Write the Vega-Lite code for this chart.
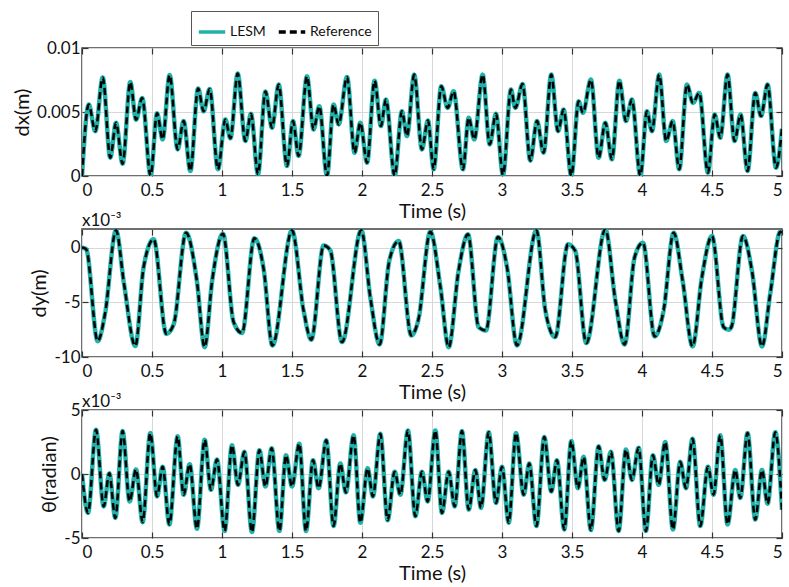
{
  "$schema": "https://vega.github.io/schema/vega-lite/v6.json",
  "background": "white",
  "padding": {"left": 11, "top": 10, "right": 5, "bottom": 5},
  "config": {
    "font": "Lato",
    "view": {"stroke": "#404040", "strokeWidth": 1.5},
    "axis": {"labelFontSize": 17, "titleFontSize": 20, "titleFontWeight": "normal", "labelColor": "#111", "titleColor": "#111", "domain": false, "gridColor": "#d8d8d8", "gridWidth": 1, "tickColor": "#333", "tickSize": -6, "tickWidth": 1.2, "labelExpr": "'' + datum.value"},
    "axisX": {"labelPadding": 12, "titlePadding": 3},
    "axisY": {"labelPadding": 8, "titlePadding": 4},
    "legend": {"orient": "none", "legendX": 109, "legendY": -37, "direction": "horizontal", "strokeColor": "#555", "fillColor": "white", "padding": 6, "labelFontSize": 14, "symbolSize": 700, "symbolStrokeWidth": 3.5, "columnPadding": 5, "labelOffset": 3, "labelColor": "#111"},
    "title": {"fontSize": 17, "fontWeight": "normal", "anchor": "start", "frame": "group", "color": "#111"}
  },
  "datasets": {
    "dx": [
      {"t":0,"lesm":0,"ref":0},{"t":0.048,"lesm":0.00558,"ref":0.00558},{"t":0.095,"lesm":0.0035,"ref":0.0035},{"t":0.148,"lesm":0.0077,"ref":0.0077},{"t":0.202,"lesm":0.00143,"ref":0.00143},{"t":0.243,"lesm":0.00416,"ref":0.00416},{"t":0.29,"lesm":0.00096,"ref":0.00096},{"t":0.345,"lesm":0.00735,"ref":0.00735},{"t":0.386,"lesm":0.0044,"ref":0.0044},{"t":0.43,"lesm":0.0061,"ref":0.0061},{"t":0.49,"lesm":0,"ref":0},{"t":0.536,"lesm":0.0049,"ref":0.0049},{"t":0.576,"lesm":0.00286,"ref":0.00286},{"t":0.626,"lesm":0.0079,"ref":0.0079},{"t":0.683,"lesm":0.00208,"ref":0.00208},{"t":0.726,"lesm":0.00429,"ref":0.00429},{"t":0.774,"lesm":0.00039,"ref":0.00039},{"t":0.829,"lesm":0.00683,"ref":0.00683},{"t":0.869,"lesm":0.00506,"ref":0.00506},{"t":0.912,"lesm":0.0068,"ref":0.0068},{"t":0.971,"lesm":0.00052,"ref":0.00052},{"t":1.024,"lesm":0.00442,"ref":0.00442},{"t":1.06,"lesm":0.00294,"ref":0.00294},{"t":1.112,"lesm":0.008,"ref":0.008},{"t":1.167,"lesm":0.00273,"ref":0.00273},{"t":1.207,"lesm":0.00486,"ref":0.00486},{"t":1.257,"lesm":0.00013,"ref":0.00013},{"t":1.31,"lesm":0.0066,"ref":0.0066},{"t":1.357,"lesm":0.00377,"ref":0.00377},{"t":1.405,"lesm":0.00714,"ref":0.00714},{"t":1.464,"lesm":0.00078,"ref":0.00078},{"t":1.507,"lesm":0.00429,"ref":0.00429},{"t":1.547,"lesm":0.00156,"ref":0.00156},{"t":1.607,"lesm":0.00779,"ref":0.00779},{"t":1.654,"lesm":0.00364,"ref":0.00364},{"t":1.695,"lesm":0.00545,"ref":0.00545},{"t":1.75,"lesm":0,"ref":0},{"t":1.797,"lesm":0.00558,"ref":0.00558},{"t":1.833,"lesm":0.00403,"ref":0.00403},{"t":1.893,"lesm":0.00774,"ref":0.00774},{"t":1.947,"lesm":0.00182,"ref":0.00182},{"t":1.988,"lesm":0.00416,"ref":0.00416},{"t":2.036,"lesm":0.00104,"ref":0.00104},{"t":2.09,"lesm":0.00745,"ref":0.00745},{"t":2.135,"lesm":0.0039,"ref":0.0039},{"t":2.171,"lesm":0.00597,"ref":0.00597},{"t":2.233,"lesm":0,"ref":0},{"t":2.285,"lesm":0.00506,"ref":0.00506},{"t":2.321,"lesm":0.00312,"ref":0.00312},{"t":2.373,"lesm":0.00792,"ref":0.00792},{"t":2.428,"lesm":0.00208,"ref":0.00208},{"t":2.471,"lesm":0.00434,"ref":0.00434},{"t":2.512,"lesm":0.00052,"ref":0.00052},{"t":2.566,"lesm":0.00701,"ref":0.00701},{"t":2.612,"lesm":0.00532,"ref":0.00532},{"t":2.654,"lesm":0.00662,"ref":0.00662},{"t":2.721,"lesm":0.00052,"ref":0.00052},{"t":2.762,"lesm":0.00455,"ref":0.00455},{"t":2.802,"lesm":0.00286,"ref":0.00286},{"t":2.862,"lesm":0.00792,"ref":0.00792},{"t":2.912,"lesm":0.00247,"ref":0.00247},{"t":2.957,"lesm":0.00486,"ref":0.00486},{"t":3.007,"lesm":0.00008,"ref":0.00008},{"t":3.064,"lesm":0.00675,"ref":0.00675},{"t":3.095,"lesm":0.00532,"ref":0.00532},{"t":3.147,"lesm":0.00719,"ref":0.00719},{"t":3.202,"lesm":0.0012,"ref":0.0012},{"t":3.25,"lesm":0.00429,"ref":0.00429},{"t":3.297,"lesm":0.00182,"ref":0.00182},{"t":3.352,"lesm":0.00792,"ref":0.00792},{"t":3.4,"lesm":0.0035,"ref":0.0035},{"t":3.44,"lesm":0.00519,"ref":0.00519},{"t":3.495,"lesm":0,"ref":0},{"t":3.547,"lesm":0.00584,"ref":0.00584},{"t":3.578,"lesm":0.00494,"ref":0.00494},{"t":3.635,"lesm":0.00753,"ref":0.00753},{"t":3.69,"lesm":0.00143,"ref":0.00143},{"t":3.738,"lesm":0.00416,"ref":0.00416},{"t":3.785,"lesm":0.0013,"ref":0.0013},{"t":3.838,"lesm":0.00745,"ref":0.00745},{"t":3.885,"lesm":0.00429,"ref":0.00429},{"t":3.928,"lesm":0.00597,"ref":0.00597},{"t":3.988,"lesm":0,"ref":0},{"t":4.035,"lesm":0.00506,"ref":0.00506},{"t":4.071,"lesm":0.0035,"ref":0.0035},{"t":4.123,"lesm":0.00792,"ref":0.00792},{"t":4.173,"lesm":0.00273,"ref":0.00273},{"t":4.219,"lesm":0.00429,"ref":0.00429},{"t":4.266,"lesm":0.00052,"ref":0.00052},{"t":4.321,"lesm":0.00714,"ref":0.00714},{"t":4.364,"lesm":0.00571,"ref":0.00571},{"t":4.409,"lesm":0.00649,"ref":0.00649},{"t":4.471,"lesm":0.00026,"ref":0.00026},{"t":4.519,"lesm":0.0048,"ref":0.0048},{"t":4.559,"lesm":0.00299,"ref":0.00299},{"t":4.611,"lesm":0.00792,"ref":0.00792},{"t":4.661,"lesm":0.00273,"ref":0.00273},{"t":4.704,"lesm":0.0048,"ref":0.0048},{"t":4.754,"lesm":0.00039,"ref":0.00039},{"t":4.809,"lesm":0.00649,"ref":0.00649},{"t":4.85,"lesm":0.00468,"ref":0.00468},{"t":4.897,"lesm":0.00714,"ref":0.00714},{"t":4.957,"lesm":0.00065,"ref":0.00065},{"t":5,"lesm":0.0037,"ref":0.0037}
    ],
    "dy": [
      {"t":0,"lesm":0,"ref":0},{"t":0.03,"lesm":-0.15,"ref":-0.15},{"t":0.112,"lesm":-8.55,"ref":-8.55},{"t":0.165,"lesm":-6.0,"ref":-6.0},{"t":0.243,"lesm":1.58,"ref":1.58},{"t":0.3,"lesm":-3.3,"ref":-3.3},{"t":0.381,"lesm":-9.0,"ref":-9.0},{"t":0.44,"lesm":-1.8,"ref":-1.8},{"t":0.512,"lesm":0.76,"ref":0.76},{"t":0.602,"lesm":-7.88,"ref":-7.88},{"t":0.655,"lesm":-7.0,"ref":-7.0},{"t":0.743,"lesm":1.36,"ref":1.36},{"t":0.82,"lesm":-3.0,"ref":-3.0},{"t":0.876,"lesm":-9.1,"ref":-9.1},{"t":0.93,"lesm":-3.0,"ref":-3.0},{"t":1.007,"lesm":1.27,"ref":1.27},{"t":1.083,"lesm":-6.8,"ref":-6.8},{"t":1.143,"lesm":-7.8,"ref":-7.8},{"t":1.231,"lesm":0.85,"ref":0.85},{"t":1.298,"lesm":-2.0,"ref":-2.0},{"t":1.36,"lesm":-8.95,"ref":-8.95},{"t":1.5,"lesm":1.58,"ref":1.58},{"t":1.583,"lesm":-5.76,"ref":-5.76},{"t":1.638,"lesm":-8.42,"ref":-8.42},{"t":1.726,"lesm":0.2,"ref":0.2},{"t":1.773,"lesm":-0.24,"ref":-0.24},{"t":1.857,"lesm":-8.64,"ref":-8.64},{"t":1.995,"lesm":1.58,"ref":1.58},{"t":2.06,"lesm":-4.6,"ref":-4.6},{"t":2.126,"lesm":-8.85,"ref":-8.85},{"t":2.195,"lesm":-1.2,"ref":-1.2},{"t":2.262,"lesm":0.6,"ref":0.6},{"t":2.352,"lesm":-8.03,"ref":-8.03},{"t":2.404,"lesm":-6.5,"ref":-6.5},{"t":2.488,"lesm":1.45,"ref":1.45},{"t":2.56,"lesm":-3.6,"ref":-3.6},{"t":2.619,"lesm":-9.1,"ref":-9.1},{"t":2.69,"lesm":-2.1,"ref":-2.1},{"t":2.757,"lesm":1.21,"ref":1.21},{"t":2.833,"lesm":-7.27,"ref":-7.27},{"t":2.885,"lesm":-7.58,"ref":-7.58},{"t":2.971,"lesm":0.97,"ref":0.97},{"t":3.036,"lesm":-1.8,"ref":-1.8},{"t":3.107,"lesm":-8.94,"ref":-8.94},{"t":3.246,"lesm":1.58,"ref":1.58},{"t":3.31,"lesm":-5.76,"ref":-5.76},{"t":3.38,"lesm":-8.18,"ref":-8.18},{"t":3.471,"lesm":0.3,"ref":0.3},{"t":3.523,"lesm":-0.3,"ref":-0.3},{"t":3.602,"lesm":-8.73,"ref":-8.73},{"t":3.738,"lesm":1.67,"ref":1.67},{"t":3.81,"lesm":-4.85,"ref":-4.85},{"t":3.876,"lesm":-8.85,"ref":-8.85},{"t":3.947,"lesm":-0.9,"ref":-0.9},{"t":4.007,"lesm":0.45,"ref":0.45},{"t":4.09,"lesm":-8.12,"ref":-8.12},{"t":4.154,"lesm":-5.76,"ref":-5.76},{"t":4.226,"lesm":1.36,"ref":1.36},{"t":4.29,"lesm":-3.0,"ref":-3.0},{"t":4.361,"lesm":-9.03,"ref":-9.03},{"t":4.428,"lesm":-2.7,"ref":-2.7},{"t":4.5,"lesm":1.06,"ref":1.06},{"t":4.583,"lesm":-7.27,"ref":-7.27},{"t":4.619,"lesm":-7.5,"ref":-7.5},{"t":4.638,"lesm":-7.27,"ref":-7.27},{"t":4.721,"lesm":1.06,"ref":1.06},{"t":4.785,"lesm":-2.1,"ref":-2.1},{"t":4.857,"lesm":-9.03,"ref":-9.03},{"t":4.916,"lesm":-4.2,"ref":-4.2},{"t":4.988,"lesm":1.45,"ref":1.45},{"t":5,"lesm":1.3,"ref":1.3}
    ],
    "th": [
      {"t":0,"lesm":0,"ref":0},{"t":0.043,"lesm":-3.04,"ref":-3.04},{"t":0.1,"lesm":3.45,"ref":3.45},{"t":0.155,"lesm":-2.53,"ref":-2.53},{"t":0.195,"lesm":0.05,"ref":0.05},{"t":0.238,"lesm":-3.43,"ref":-3.43},{"t":0.29,"lesm":3.35,"ref":3.35},{"t":0.34,"lesm":-2.14,"ref":-2.14},{"t":0.386,"lesm":0.36,"ref":0.36},{"t":0.433,"lesm":-3.76,"ref":-3.76},{"t":0.488,"lesm":3.2,"ref":3.2},{"t":0.536,"lesm":-1.75,"ref":-1.75},{"t":0.576,"lesm":0.57,"ref":0.57},{"t":0.624,"lesm":-3.94,"ref":-3.94},{"t":0.683,"lesm":2.94,"ref":2.94},{"t":0.726,"lesm":-1.62,"ref":-1.62},{"t":0.769,"lesm":0.77,"ref":0.77},{"t":0.821,"lesm":-4.28,"ref":-4.28},{"t":0.876,"lesm":2.68,"ref":2.68},{"t":0.921,"lesm":-1.24,"ref":-1.24},{"t":0.964,"lesm":1.13,"ref":1.13},{"t":1.019,"lesm":-4.46,"ref":-4.46},{"t":1.071,"lesm":2.24,"ref":2.24},{"t":1.114,"lesm":-0.85,"ref":-0.85},{"t":1.16,"lesm":1.73,"ref":1.73},{"t":1.214,"lesm":-4.54,"ref":-4.54},{"t":1.267,"lesm":1.86,"ref":1.86},{"t":1.31,"lesm":-0.98,"ref":-0.98},{"t":1.355,"lesm":2.02,"ref":2.02},{"t":1.41,"lesm":-4.46,"ref":-4.46},{"t":1.457,"lesm":1.47,"ref":1.47},{"t":1.5,"lesm":-0.98,"ref":-0.98},{"t":1.552,"lesm":2.37,"ref":2.37},{"t":1.6,"lesm":-4.46,"ref":-4.46},{"t":1.65,"lesm":1.08,"ref":1.08},{"t":1.69,"lesm":-1.11,"ref":-1.11},{"t":1.745,"lesm":2.63,"ref":2.63},{"t":1.797,"lesm":-4.07,"ref":-4.07},{"t":1.845,"lesm":0.82,"ref":0.82},{"t":1.885,"lesm":-1.44,"ref":-1.44},{"t":1.94,"lesm":3.02,"ref":3.02},{"t":1.988,"lesm":-3.81,"ref":-3.81},{"t":2.04,"lesm":0.44,"ref":0.44},{"t":2.078,"lesm":-1.75,"ref":-1.75},{"t":2.131,"lesm":3.14,"ref":3.14},{"t":2.183,"lesm":-3.61,"ref":-3.61},{"t":2.233,"lesm":0.18,"ref":0.18},{"t":2.274,"lesm":-1.62,"ref":-1.62},{"t":2.328,"lesm":3.4,"ref":3.4},{"t":2.381,"lesm":-3.3,"ref":-3.3},{"t":2.428,"lesm":0.18,"ref":0.18},{"t":2.469,"lesm":-2.14,"ref":-2.14},{"t":2.524,"lesm":3.4,"ref":3.4},{"t":2.571,"lesm":-3.04,"ref":-3.04},{"t":2.619,"lesm":0.18,"ref":0.18},{"t":2.662,"lesm":-2.53,"ref":-2.53},{"t":2.714,"lesm":3.35,"ref":3.35},{"t":2.762,"lesm":-2.78,"ref":-2.78},{"t":2.81,"lesm":0.31,"ref":0.31},{"t":2.85,"lesm":-2.65,"ref":-2.65},{"t":2.905,"lesm":3.27,"ref":3.27},{"t":2.957,"lesm":-2.27,"ref":-2.27},{"t":3.0,"lesm":0.57,"ref":0.57},{"t":3.048,"lesm":-3.81,"ref":-3.81},{"t":3.1,"lesm":3.2,"ref":3.2},{"t":3.155,"lesm":-1.62,"ref":-1.62},{"t":3.195,"lesm":0.82,"ref":0.82},{"t":3.246,"lesm":-4.07,"ref":-4.07},{"t":3.302,"lesm":2.89,"ref":2.89},{"t":3.352,"lesm":-1.37,"ref":-1.37},{"t":3.392,"lesm":1.08,"ref":1.08},{"t":3.445,"lesm":-4.33,"ref":-4.33},{"t":3.495,"lesm":2.58,"ref":2.58},{"t":3.542,"lesm":-1.11,"ref":-1.11},{"t":3.583,"lesm":1.34,"ref":1.34},{"t":3.635,"lesm":-4.38,"ref":-4.38},{"t":3.69,"lesm":2.16,"ref":2.16},{"t":3.733,"lesm":-0.46,"ref":-0.46},{"t":3.778,"lesm":1.73,"ref":1.73},{"t":3.833,"lesm":-4.46,"ref":-4.46},{"t":3.885,"lesm":1.91,"ref":1.91},{"t":3.928,"lesm":-0.46,"ref":-0.46},{"t":3.976,"lesm":2.06,"ref":2.06},{"t":4.028,"lesm":-4.46,"ref":-4.46},{"t":4.078,"lesm":1.47,"ref":1.47},{"t":4.119,"lesm":-0.85,"ref":-0.85},{"t":4.166,"lesm":2.5,"ref":2.5},{"t":4.221,"lesm":-4.33,"ref":-4.33},{"t":4.273,"lesm":0.95,"ref":0.95},{"t":4.314,"lesm":-1.11,"ref":-1.11},{"t":4.361,"lesm":2.76,"ref":2.76},{"t":4.416,"lesm":-4.07,"ref":-4.07},{"t":4.471,"lesm":0.57,"ref":0.57},{"t":4.511,"lesm":-1.62,"ref":-1.62},{"t":4.559,"lesm":3.02,"ref":3.02},{"t":4.611,"lesm":-3.94,"ref":-3.94},{"t":4.666,"lesm":0.31,"ref":0.31},{"t":4.702,"lesm":-1.88,"ref":-1.88},{"t":4.754,"lesm":3.2,"ref":3.2},{"t":4.809,"lesm":-3.56,"ref":-3.56},{"t":4.857,"lesm":0.31,"ref":0.31},{"t":4.897,"lesm":-2.32,"ref":-2.32},{"t":4.952,"lesm":3.27,"ref":3.27},{"t":5,"lesm":-2.8,"ref":-2.8}
    ]
  },
  "spacing": 53,
  "bounds": "flush",
  "vconcat": [
    {
      "width": 700, "height": 128,
      "data": {"name": "dx"},
      "layer": [
        {
          "mark": {"type": "line", "strokeWidth": 4.5, "interpolate": "monotone", "clip": true},
          "encoding": {
            "x": {"field": "t", "type": "quantitative", "scale": {"domain": [0, 5], "nice": false}, "axis": {"orient": "bottom", "values": [0,0.5,1,1.5,2,2.5,3,3.5,4,4.5,5], "title": "Time (s)", "grid": true}},
            "y": {"field": "lesm", "type": "quantitative", "scale": {"domain": [0, 0.01], "nice": false}, "axis": {"orient": "left", "values": [0, 0.005, 0.01], "title": "dx(m)", "grid": true}},
            "color": {"datum": "LESM", "type": "nominal", "title": null, "scale": {"domain": ["LESM", "Reference"], "range": ["#20b2aa", "#000000"]}},
            "strokeDash": {"datum": "LESM", "type": "nominal", "title": null, "scale": {"domain": ["LESM", "Reference"], "range": [[1, 0], [7, 4]]}}
          }
        },
        {
          "mark": {"type": "line", "strokeWidth": 2.5, "interpolate": "monotone", "clip": true},
          "encoding": {
            "x": {"field": "t", "type": "quantitative", "axis": {"orient": "top", "values": [0,0.5,1,1.5,2,2.5,3,3.5,4,4.5,5], "labels": false, "title": null, "grid": false}},
            "y": {"field": "ref", "type": "quantitative", "axis": {"orient": "right", "values": [0, 0.005, 0.01], "labels": false, "title": null, "grid": false}},
            "color": {"datum": "Reference", "type": "nominal", "title": null},
            "strokeDash": {"datum": "Reference", "type": "nominal", "title": null}
          }
        }
      ],
      "resolve": {"axis": {"x": "independent", "y": "independent"}}
    },
    {
      "width": 700, "height": 128,
      "title": {"text": "x10⁻³", "offset": -2},
      "data": {"name": "dy"},
      "layer": [
        {
          "mark": {"type": "line", "strokeWidth": 4.5, "interpolate": "monotone", "clip": true},
          "encoding": {
            "x": {"field": "t", "type": "quantitative", "scale": {"domain": [0, 5], "nice": false}, "axis": {"orient": "bottom", "values": [0,0.5,1,1.5,2,2.5,3,3.5,4,4.5,5], "title": "Time (s)", "grid": true}},
            "y": {"field": "lesm", "type": "quantitative", "scale": {"domain": [-10, 1.7], "nice": false}, "axis": {"orient": "left", "values": [-10, -5, 0], "title": "dy(m)", "grid": true}},
            "color": {"datum": "LESM", "type": "nominal", "title": null},
            "strokeDash": {"datum": "LESM", "type": "nominal", "title": null}
          }
        },
        {
          "mark": {"type": "line", "strokeWidth": 2.5, "interpolate": "monotone", "clip": true},
          "encoding": {
            "x": {"field": "t", "type": "quantitative", "axis": {"orient": "top", "values": [0,0.5,1,1.5,2,2.5,3,3.5,4,4.5,5], "labels": false, "title": null, "grid": false}},
            "y": {"field": "ref", "type": "quantitative", "axis": {"orient": "right", "values": [-10, -5, 0], "labels": false, "title": null, "grid": false}},
            "color": {"datum": "Reference", "type": "nominal", "title": null},
            "strokeDash": {"datum": "Reference", "type": "nominal", "title": null}
          }
        }
      ],
      "resolve": {"axis": {"x": "independent", "y": "independent"}}
    },
    {
      "width": 700, "height": 128,
      "title": {"text": "x10⁻³", "offset": -10},
      "data": {"name": "th"},
      "layer": [
        {
          "mark": {"type": "line", "strokeWidth": 4.5, "interpolate": "monotone", "clip": true},
          "encoding": {
            "x": {"field": "t", "type": "quantitative", "scale": {"domain": [0, 5], "nice": false}, "axis": {"orient": "bottom", "values": [0,0.5,1,1.5,2,2.5,3,3.5,4,4.5,5], "title": "Time (s)", "grid": true}},
            "y": {"field": "lesm", "type": "quantitative", "scale": {"domain": [-5, 5], "nice": false}, "axis": {"orient": "left", "values": [-5, 0, 5], "title": "θ(radian)", "grid": true}},
            "color": {"datum": "LESM", "type": "nominal", "title": null},
            "strokeDash": {"datum": "LESM", "type": "nominal", "title": null}
          }
        },
        {
          "mark": {"type": "line", "strokeWidth": 2.5, "interpolate": "monotone", "clip": true},
          "encoding": {
            "x": {"field": "t", "type": "quantitative", "axis": {"orient": "top", "values": [0,0.5,1,1.5,2,2.5,3,3.5,4,4.5,5], "labels": false, "title": null, "grid": false}},
            "y": {"field": "ref", "type": "quantitative", "axis": {"orient": "right", "values": [-5, 0, 5], "labels": false, "title": null, "grid": false}},
            "color": {"datum": "Reference", "type": "nominal", "title": null},
            "strokeDash": {"datum": "Reference", "type": "nominal", "title": null}
          }
        }
      ],
      "resolve": {"axis": {"x": "independent", "y": "independent"}}
    }
  ]
}
